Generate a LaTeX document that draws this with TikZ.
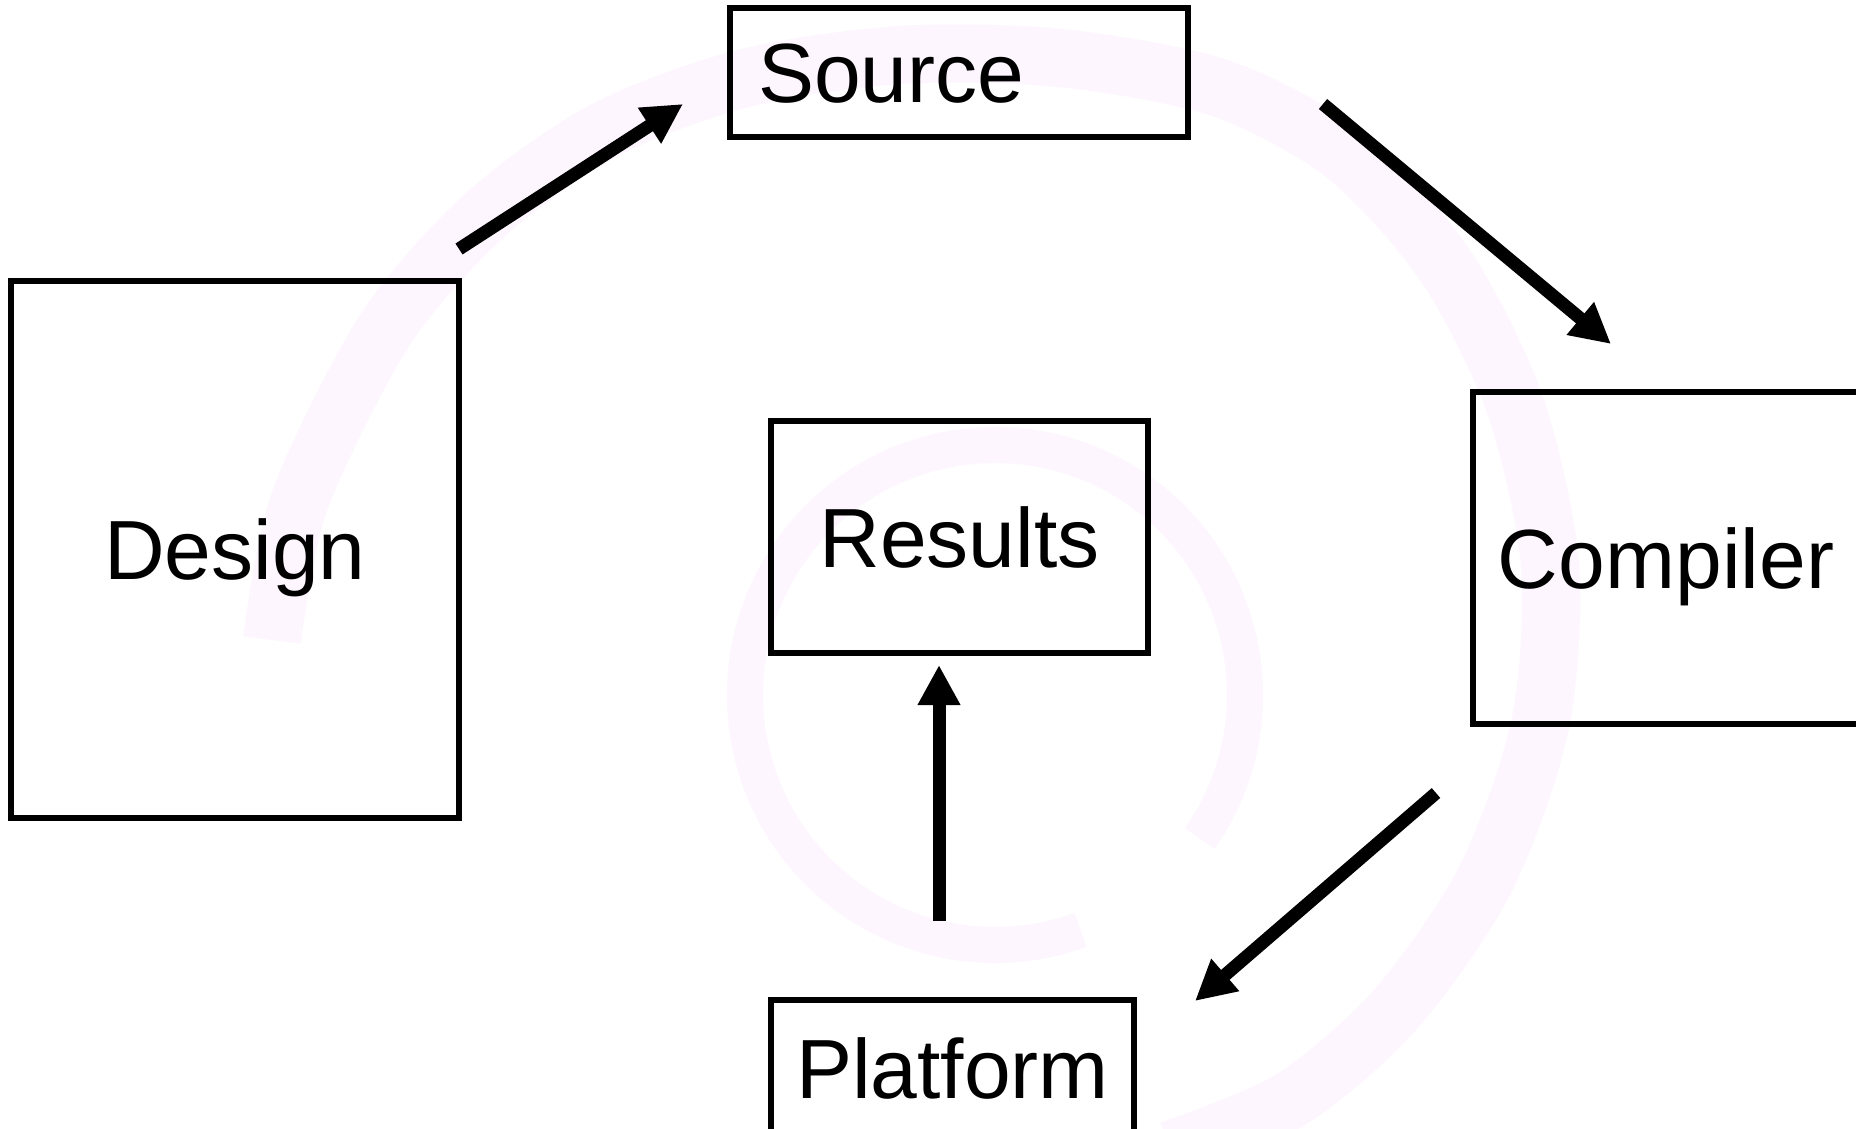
\documentclass[tikz,border=0pt]{standalone}
\usepackage{fontspec}
\setmainfont{Liberation Sans}
\usepackage{tikz}
\usetikzlibrary{arrows.meta}
\usepackage{xcolor}
\definecolor{swirl}{RGB}{254,246,254}

\begin{document}
\begin{tikzpicture}[x=1pt,y=-1pt,
  box/.style={draw,line width=6pt,inner sep=0pt,text height=60pt,text depth=0pt,
    font=\fontsize{84}{100}\selectfont},
  flow/.style={line width=13pt,-{Triangle[length=40pt,width=40pt]}}]
  \useasboundingbox[fill=white] (0,0) rectangle (1856,1128);
  % faint swirl in the background
  \draw[swirl,line width=58pt] plot[smooth] coordinates {(272,640) (300,500) (385,330) (485,215) (605,130) (745,78) (900,55) (1060,58) (1220,88) (1345,155) (1445,265) (1515,405) (1550,565) (1540,725) (1485,880) (1395,1010) (1290,1100) (1170,1150)};
  \draw[swirl,line width=36pt] (995,695) ++(35:250) arc[start angle=35,end angle=-290,radius=250];
  \node[box,minimum width=458,minimum height=129,text width=402pt,align=left,inner xsep=28pt] (source) at (959,72.5) {Source};
  \node[box,minimum width=448,minimum height=537] (design) at (235,549.5) {Design};
  \node[box,minimum width=377,minimum height=232] (results) at (959.5,537) {Results};
  \node[box,minimum width=386,minimum height=332] (compiler) at (1666,558) {Compiler};
  \node[box,minimum width=363,minimum height=136] (platform) at (952.5,1068) {Platform};
  \coordinate (ds1) at (459,249);  \coordinate (ds2) at (683,104);
  \coordinate (sc1) at (1323,104); \coordinate (sc2) at (1611,344);
  \coordinate (cp1) at (1436,793); \coordinate (cp2) at (1195,1001);
  \coordinate (pr1) at (939,921);  \coordinate (pr2) at (939,665);
  \draw[flow] (ds1) -- (ds2);
  \draw[flow] (sc1) -- (sc2);
  \draw[flow] (cp1) -- (cp2);
  \draw[flow] (pr1) -- (pr2);
\end{tikzpicture}
\end{document}
